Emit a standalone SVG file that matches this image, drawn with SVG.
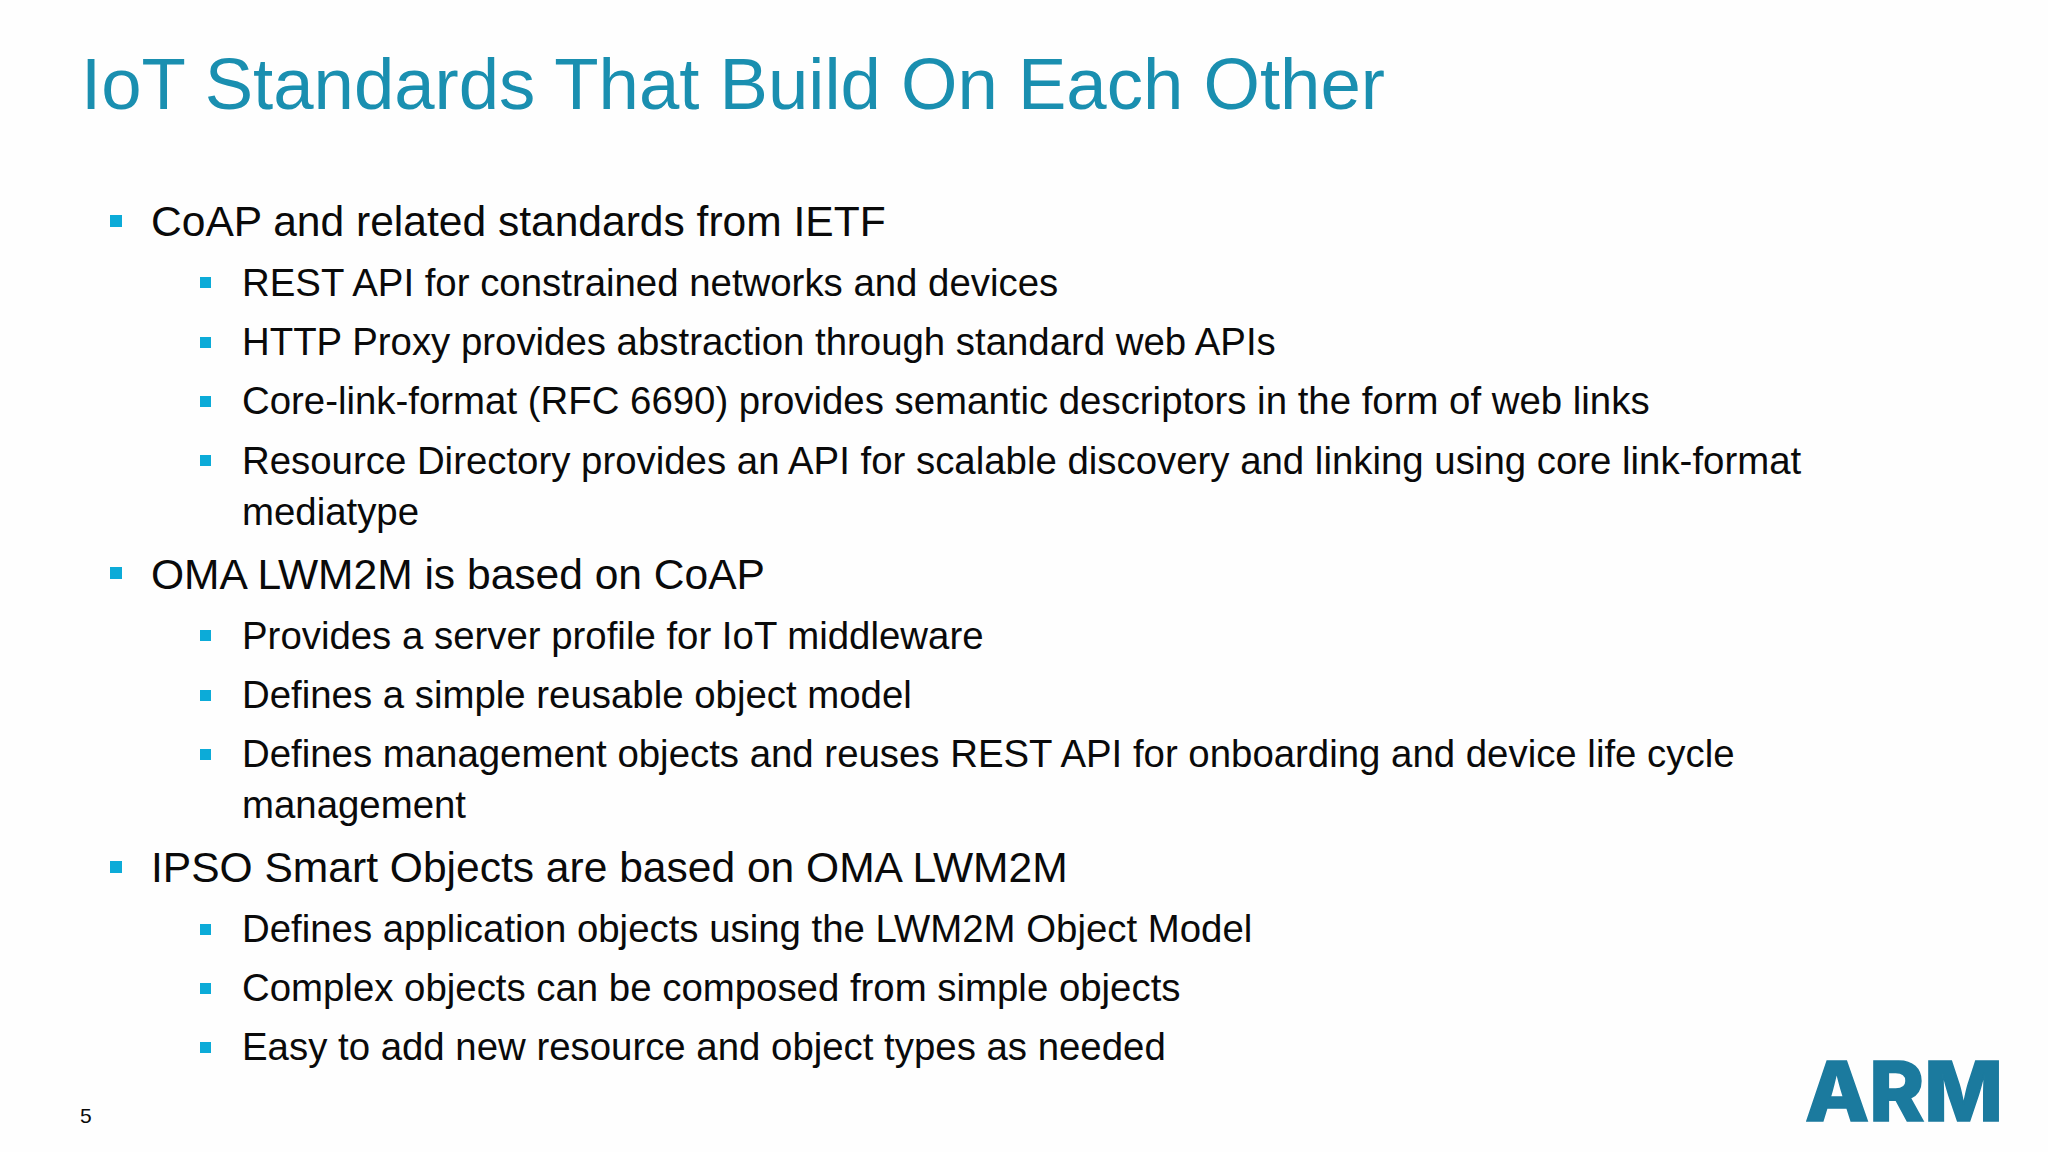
<svg xmlns="http://www.w3.org/2000/svg" width="2048" height="1152" viewBox="0 0 2048 1152">
<style>
text{font-family:"Liberation Sans",Arial,sans-serif;fill:#0a0a0a}
.t{font-size:72.55px;fill:#1a8fb0}
.a{font-size:42.55px}
.b{font-size:38.38px}
.s{fill:#0cabd8}
.n{font-size:21px}
.l{font-family:"Inter","Liberation Sans",sans-serif;font-size:83px;font-weight:800;fill:#1b7a9e;stroke:#1b7a9e;stroke-width:1.5px}
</style>
<rect width="2048" height="1152" fill="#fefefe"/>
<text class="t" x="81" y="109">IoT Standards That Build On Each Other</text>
<g id="bullets">
<rect class="s" x="110" y="215" width="12" height="12"/>
<rect class="s" x="200" y="277" width="11" height="11"/>
<rect class="s" x="200" y="337" width="11" height="11"/>
<rect class="s" x="200" y="396" width="11" height="11"/>
<rect class="s" x="200" y="455" width="11" height="11"/>
<rect class="s" x="110" y="567" width="12" height="12"/>
<rect class="s" x="200" y="630" width="11" height="11"/>
<rect class="s" x="200" y="690" width="11" height="11"/>
<rect class="s" x="200" y="749" width="11" height="11"/>
<rect class="s" x="110" y="861" width="12" height="12"/>
<rect class="s" x="200" y="924" width="11" height="11"/>
<rect class="s" x="200" y="983" width="11" height="11"/>
<rect class="s" x="200" y="1042" width="11" height="11"/>
</g>
<g id="body">
<text class="a" x="151" y="236">CoAP and related standards from IETF</text>
<text class="b" x="242" y="296">REST API for constrained networks and devices</text>
<text class="b" x="242" y="355">HTTP Proxy provides abstraction through standard web APIs</text>
<text class="b" x="242" y="414">Core-link-format (RFC 6690) provides semantic descriptors in the form of web links</text>
<text class="b" x="242" y="474">Resource Directory provides an API for scalable discovery and linking using core link-format</text>
<text class="b" x="242" y="525">mediatype</text>
<text class="a" x="151" y="589">OMA LWM2M is based on CoAP</text>
<text class="b" x="242" y="649">Provides a server profile for IoT middleware</text>
<text class="b" x="242" y="708">Defines a simple reusable object model</text>
<text class="b" x="242" y="767">Defines management objects and reuses REST API for onboarding and device life cycle</text>
<text class="b" x="242" y="818">management</text>
<text class="a" x="151" y="882">IPSO Smart Objects are based on OMA LWM2M</text>
<text class="b" x="242" y="942">Defines application objects using the LWM2M Object Model</text>
<text class="b" x="242" y="1001">Complex objects can be composed from simple objects</text>
<text class="b" x="242" y="1060">Easy to add new resource and object types as needed</text>
</g>
<text class="n" x="80" y="1123">5</text>
<text id="logo" class="l" x="1805" y="1121" textLength="198" lengthAdjust="spacingAndGlyphs">ARM</text>
</svg>
